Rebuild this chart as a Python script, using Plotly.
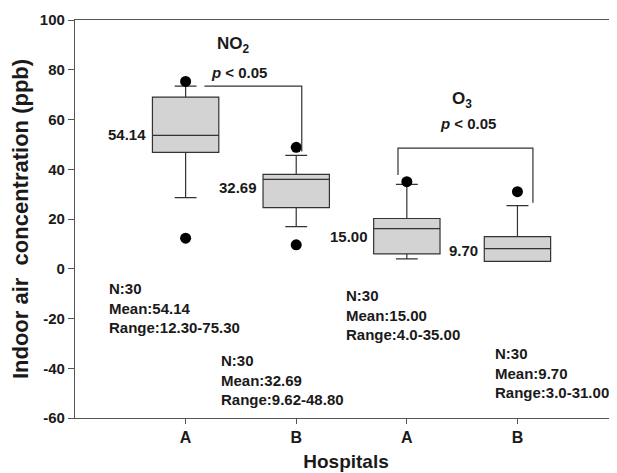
import plotly.graph_objects as go

# ---- data ----
categories = ["A", "B", "A", "B"]
positions = [1, 2, 3, 4]
q1 = [46.8, 24.6, 6.0, 3.0]
median = [53.6, 35.9, 16.1, 8.1]
q3 = [69.0, 37.9, 20.2, 12.9]
lower_whisker = [28.6, 16.9, 4.0, 3.0]
upper_whisker = [73.4, 45.6, 33.9, 25.4]
outliers = [[75.30, 12.30], [48.80, 9.62], [35.00], [31.00]]
means = [54.14, 32.69, 15.00, 9.70]
n_values = [30, 30, 30, 30]
ranges = ["12.30-75.30", "9.62-48.80", "4.0-35.00", "3.0-31.00"]
y_ticks = [-60, -40, -20, 0, 20, 40, 60, 80, 100]
pollutants = ["NO<sub>2</sub>", "O<sub>3</sub>"]
p_texts = ["<i>p</i> < 0.05", "<i>p</i> < 0.05"]
bracket_top = [73.4, 48.5]

FONT = "Liberation Sans, Arial, Helvetica, sans-serif"
TXT = "#1a1a1a"
LINE = "#333333"

fig = go.Figure()

for i, pos in enumerate(positions):
    fig.add_trace(go.Box(
        x=[pos], q1=[q1[i]], median=[median[i]], q3=[q3[i]],
        lowerfence=[lower_whisker[i]], upperfence=[upper_whisker[i]],
        width=0.6, whiskerwidth=0.33,
        fillcolor="#d3d3d3", line=dict(color=LINE, width=1.2),
        boxpoints=False, showlegend=False, hoverinfo="skip",
    ))
    fig.add_trace(go.Scatter(
        x=[pos] * len(outliers[i]), y=outliers[i], mode="markers",
        marker=dict(color="black", size=11), showlegend=False, hoverinfo="skip",
    ))

annotations = []
# mean labels left of boxes
yshifts = [0, 0, -5, -6]
for i, pos in enumerate(positions):
    annotations.append(dict(
        x=pos - 0.3, y=means[i], xref="x", yref="y", text=f"<b>{means[i]:.2f}</b>",
        showarrow=False, xanchor="right", yanchor="middle", xshift=-4, yshift=yshifts[i],
        font=dict(size=15, color=TXT, family=FONT)))

# stats blocks
stat_pos = [(0.29, -15.8), (1.30, -44.7), (2.43, -18.6), (3.78, -41.9)]
for i in range(4):
    sx, sy = stat_pos[i]
    annotations.append(dict(
        x=sx, y=sy, xref="x", yref="y",
        text=f"<b>N:{n_values[i]}<br>Mean:{means[i]:.2f}<br>Range:{ranges[i]}</b>",
        showarrow=False, xanchor="left", yanchor="middle", align="left",
        font=dict(size=15, color=TXT, family=FONT)))

# pollutant labels and p-values
label_pos = [(1.43, 90.0, 79.0), (3.50, 67.9, 58.2)]
for k in range(2):
    lx, ly, py = label_pos[k]
    annotations.append(dict(x=lx, y=ly, xref="x", yref="y", text=f"<b>{pollutants[k]}</b>",
                            showarrow=False, font=dict(size=17, color=TXT, family=FONT)))
    annotations.append(dict(x=lx + 0.05, y=py, xref="x", yref="y", text=f"<b>{p_texts[k]}</b>",
                            showarrow=False, font=dict(size=15, color=TXT, family=FONT)))

shapes = []
# NO2 bracket
shapes.append(dict(type="path", xref="x", yref="y",
                   path=f"M {positions[0]+0.17} {bracket_top[0]} L {positions[1]+0.05} {bracket_top[0]} "
                        f"L {positions[1]+0.05} {upper_whisker[1]+1.5}",
                   line=dict(color=LINE, width=1.2)))
# O3 bracket
shapes.append(dict(type="path", xref="x", yref="y",
                   path=f"M {positions[2]-0.08} {outliers[2][0]+2.7} L {positions[2]-0.08} {bracket_top[1]} "
                        f"L {positions[3]+0.14} {bracket_top[1]} L {positions[3]+0.14} {upper_whisker[3]+1.1}",
                   line=dict(color=LINE, width=1.2)))

# page body has an 8px default margin: size the figure to fit the window
fig.update_layout(
    width=609, height=465,
    margin=dict(l=67, r=0, t=12, b=55),
    paper_bgcolor="white", plot_bgcolor="white",
    font=dict(family=FONT, color=TXT),
    annotations=annotations, shapes=shapes,
    xaxis=dict(range=[0, 4.9], tickvals=positions, ticktext=[f"<b>{c}</b>" for c in categories],
               showgrid=False, zeroline=False, showline=True, linecolor="#555555", linewidth=1.2,
               mirror=True, ticks="outside", ticklen=5, tickcolor="#555555",
               tickfont=dict(size=16, color=TXT, family=FONT),
               title=dict(text="<b>Hospitals</b>", font=dict(size=19, color=TXT, family=FONT), standoff=9)),
    yaxis=dict(range=[-60, 100], tickvals=y_ticks, ticktext=[f"<b>{t}</b>" for t in y_ticks],
               showgrid=False, zeroline=False, showline=True, linecolor="#555555", linewidth=1.2,
               ticks="outside", ticklen=6, tickcolor="#555555",
               tickfont=dict(size=15, color=TXT, family=FONT),
               title=dict(text="<b>Indoor air  concentration (ppb)</b>", font=dict(size=22, color=TXT, family=FONT),
                          standoff=8)),
)

fig.write_html("out.html")
